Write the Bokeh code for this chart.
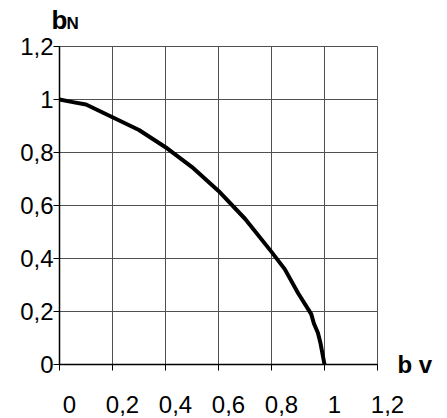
from bokeh.plotting import figure
from bokeh.models import Range1d, LinearAxis, FixedTicker
from bokeh.embed import file_html
from bokeh.resources import INLINE

# data
bv = [0, 0.05, 0.1, 0.2, 0.3, 0.4, 0.5, 0.6, 0.7, 0.8, 0.85, 0.9, 0.95, 0.96, 0.975, 0.985, 1.0]
bN = [1.0, 0.99, 0.981, 0.933, 0.885, 0.82, 0.745, 0.655, 0.55, 0.425, 0.36, 0.27, 0.19, 0.155, 0.12, 0.08, 0.0]
ticks = [0, 0.2, 0.4, 0.6, 0.8, 1.0, 1.2]
tick_text = ["0", "0,2", "0,4", "0,6", "0,8", "1", "1,2"]
x_title = "b v"
y_title_main = "b"
y_title_sub = "N"

FONT = "Liberation Sans"
PAD = "\u00a0\u00a0\u00a0"  # the x labels sit a little right of their ticks

y_labels = dict(zip(ticks, tick_text))
x_labels = {t: PAD + s for t, s in zip(ticks, tick_text)}

p = figure(width=447, height=418, output_backend="svg", toolbar_location=None,
           x_range=Range1d(0, 1.2), y_range=Range1d(0, 1.2),
           frame_width=318, frame_height=318,
           min_border_left=59, min_border_right=70, min_border_top=46, min_border_bottom=54)
p.background_fill_color = "white"
p.border_fill_color = "white"
p.outline_line_color = "#505050"
p.outline_line_width = 1

# grid
for g in (p.xgrid, p.ygrid):
    g.ticker = FixedTicker(ticks=ticks)
    g.grid_line_color = "#505050"
    g.grid_line_width = 1


def bare(axis):
    axis.axis_line_color = None
    axis.major_tick_line_color = None
    axis.minor_tick_line_color = None
    axis.major_tick_out = 0
    axis.major_tick_in = 0
    axis.minor_tick_out = 0
    axis.minor_tick_in = 0


def label_style(axis, size, bold=False):
    axis.major_label_text_font = FONT
    axis.major_label_text_font_size = size
    axis.major_label_text_color = "black"
    if bold:
        axis.major_label_text_font_style = "bold"


# y axis
ya = p.yaxis[0]
ya.ticker = FixedTicker(ticks=ticks)
ya.major_label_overrides = y_labels
label_style(ya, "24px")
ya.major_tick_out = 6
ya.major_tick_in = 0
ya.minor_tick_line_color = None
ya.major_label_standoff = 0
ya.axis_line_color = "black"
ya.axis_line_width = 1.5
ya.major_tick_line_color = "black"

# x axis
xa = p.xaxis[0]
xa.ticker = FixedTicker(ticks=ticks)
xa.major_label_overrides = x_labels
label_style(xa, "24px")
xa.major_label_standoff = 20
xa.major_tick_out = 6
xa.major_tick_in = 0
xa.minor_tick_line_color = None
xa.axis_line_color = "black"
xa.axis_line_width = 1.5
xa.major_tick_line_color = "black"

# "b v" title to the right of the x axis end
rt = LinearAxis(ticker=FixedTicker(ticks=[0]))
rt.major_label_overrides = {0: x_title}
label_style(rt, "24px", bold=True)
rt.major_label_standoff = 20
bare(rt)
p.add_layout(rt, "right")

# "bN" title above the y axis: main letter (nearest the frame), then the subscript
sub_pos = 0.05
main_pos = 0
tb = LinearAxis(ticker=FixedTicker(ticks=[main_pos]))
tb.major_label_overrides = {main_pos: y_title_main}
label_style(tb, "26px", bold=True)
tb.major_label_standoff = 12
bare(tb)
p.add_layout(tb, "above")

ta = LinearAxis(ticker=FixedTicker(ticks=[sub_pos]))
ta.major_label_overrides = {sub_pos: y_title_sub}
label_style(ta, "17px", bold=True)
ta.major_label_standoff = -31
bare(ta)
p.add_layout(ta, "above")

# curve
p.line(bv, bN, line_color="black", line_width=4, line_join="round", line_cap="round")

open("out.html", "w").write(file_html(p, INLINE))
